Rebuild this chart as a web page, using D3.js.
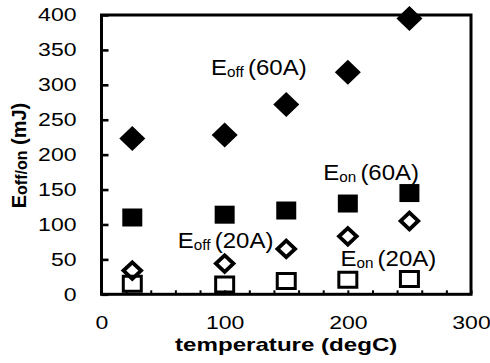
<!DOCTYPE html>
<html>
<head>
<meta charset="utf-8">
<script src="https://cdn.jsdelivr.net/npm/d3@7"></script>
<style>
  body { margin: 0; background: #fff; }
  text { font-family: "Liberation Sans", Arial, sans-serif; fill: #000; }
</style>
</head>
<body>
<svg id="chart" width="490" height="363"></svg>
<script>
// Switching energy vs. junction temperature
const temperatures = [25, 100, 150, 200, 250];
const eOff60A = [223, 228, 272, 318, 395];
const eOn60A  = [110, 114, 120, 130, 145];
const eOff20A = [34, 44, 65, 83, 105];
const eOn20A  = [15, 14, 19, 21, 22];

const xTickLabels = [0, 100, 200, 300];
const xMinorTicks = d3.range(0, 301, 20);
const yTickLabels = [0, 50, 100, 150, 200, 250, 300, 350, 400];

const seriesNames = [
  { main: "E", sub: "off", tail: "(60A)" },
  { main: "E", sub: "on",  tail: "(60A)" },
  { main: "E", sub: "off", tail: "(20A)" },
  { main: "E", sub: "on",  tail: "(20A)" }
];

// label anchors in data units (temperature, energy)
const labelAnchors = [
  [89, 314],
  [180, 164],
  [62, 66],
  [194, 40.5]
];

const svg = d3.select("#chart");
const plot = { left: 101.5, right: 471, top: 15, bottom: 294.3 };

const x = d3.scaleLinear().domain([0, 300]).range([plot.left, plot.right]);
const y = d3.scaleLinear().domain([0, 400]).range([plot.bottom, plot.top]);

// stretch a text horizontally around its anchor
function stretch(sel, k, ax, ay) {
  sel.attr("transform", `translate(${ax},${ay}) scale(${k},1) translate(${-ax},${-ay})`);
}

// y axis
const yAxis = svg.append("g")
  .attr("transform", `translate(${plot.left},0)`)
  .call(d3.axisLeft(y).tickValues(yTickLabels).tickSize(-7).tickPadding(25));
yAxis.select(".domain").remove();
yAxis.selectAll(".tick line").attr("stroke", "#000").attr("stroke-width", 2.6);
yAxis.selectAll(".tick text")
  .style("font-size", "18px")
  .each(function () {
    const t = d3.select(this);
    stretch(t, 1.28, +t.attr("x"), 0);
  });

// x axis with minor ticks every 20
const xAxis = svg.append("g")
  .attr("transform", `translate(0,${plot.bottom})`)
  .call(d3.axisBottom(x).tickValues(xMinorTicks).tickSize(-4).tickPadding(22)
    .tickFormat(d => xTickLabels.includes(d) ? d : ""));
xAxis.select(".domain").remove();
xAxis.selectAll(".tick line").attr("stroke", "#000").attr("stroke-width", 2);
xAxis.selectAll(".tick text")
  .style("font-size", "18px")
  .each(function () {
    const t = d3.select(this);
    stretch(t, 1.28, 0, 0);
  });

// frame
svg.append("rect")
  .attr("x", plot.left).attr("y", plot.top)
  .attr("width", plot.right - plot.left).attr("height", plot.bottom - plot.top)
  .attr("fill", "none").attr("stroke", "#000").attr("stroke-width", 3);

// axis titles
const xTitle = svg.append("text")
  .attr("x", (plot.left + plot.right) / 2).attr("y", 351)
  .attr("text-anchor", "middle")
  .style("font-size", "18px").style("font-weight", "bold")
  .text("temperature (degC)");
stretch(xTitle, 1.34, (plot.left + plot.right) / 2, 351);

const yTitle = svg.append("text")
  .attr("text-anchor", "middle")
  .attr("transform", `translate(26,155.5) rotate(-90)`)
  .style("font-weight", "bold");
yTitle.append("tspan").style("font-size", "20px").text("E");
yTitle.append("tspan").style("font-size", "16px").attr("dy", 1).text("off/on");
yTitle.append("tspan").style("font-size", "20px").attr("dy", -1).text(" (mJ)");

// series labels
seriesNames.forEach((s, i) => {
  const [tx, ty] = labelAnchors[i];
  const px = x(tx), py = y(ty);
  const t = svg.append("text").attr("x", px).attr("y", py).attr("xml:space", "preserve");
  t.append("tspan").style("font-size", "22px").text(s.main);
  t.append("tspan").style("font-size", "14px").attr("dy", 2).text(s.sub + " ");
  t.append("tspan").style("font-size", "22px").attr("dy", -2).text(s.tail);
  stretch(t, 1.09, px, py);
});

// markers
function diamond(hw, hh) {
  return `M0,${-hh}L${hw},0L0,${hh}L${-hw},0Z`;
}
function box(w, h) {
  return `M${-w / 2},${-h / 2}h${w}v${h}h${-w}Z`;
}

const points = (vals) => temperatures.map((t, i) => [t, vals[i]]);

function drawSeries(vals, path, fill, stroke, strokeWidth) {
  svg.append("g").selectAll("path")
    .data(points(vals))
    .join("path")
    .attr("transform", d => `translate(${x(d[0])},${y(d[1])})`)
    .attr("d", path)
    .attr("fill", fill)
    .attr("stroke", stroke)
    .attr("stroke-width", strokeWidth)
    .attr("stroke-linejoin", "miter");
}

drawSeries(eOn20A, box(18, 15), "none", "#000", 3);
drawSeries(eOff20A, diamond(8.8, 8.3), "none", "#000", 3.8);
drawSeries(eOn60A, box(20, 18), "#000", "none", 0);
drawSeries(eOff60A, diamond(13, 12.5), "#000", "none", 0);
</script>
</body>
</html>
